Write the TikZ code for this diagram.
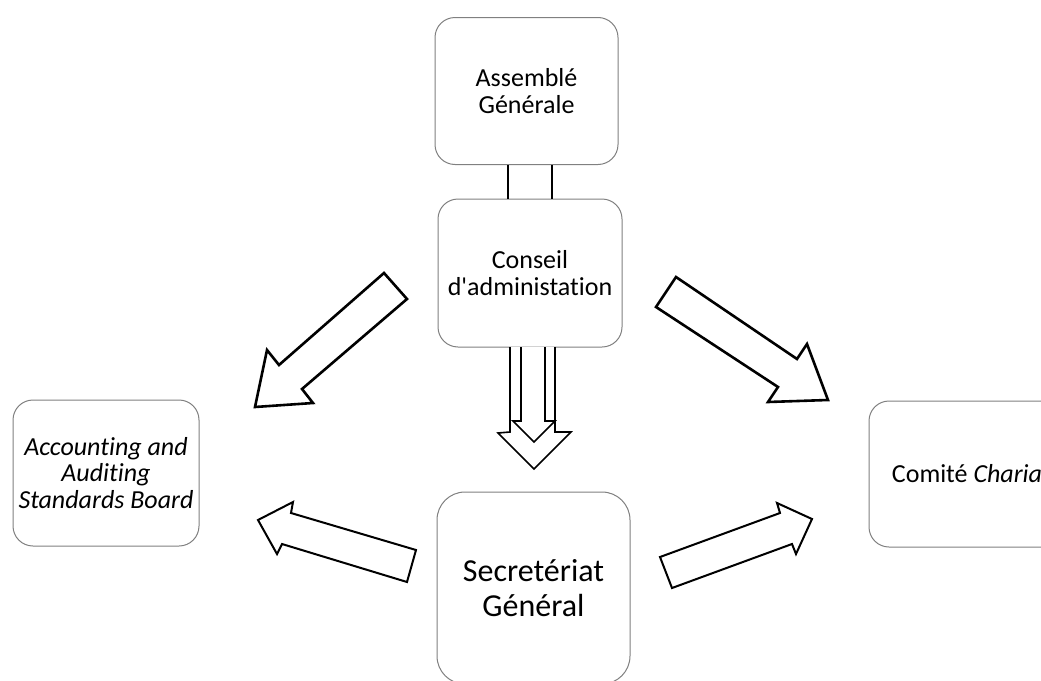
\documentclass[tikz,border=0pt]{standalone}
\usepackage{fontspec}
\setmainfont{Carlito}[Ligatures={TeXOff,CommonOff}]
\begin{document}
\begin{tikzpicture}[x=1pt,y=-1pt,
  box/.style={draw=black!50, line width=1pt, rounded corners=20pt, fill=white,
    align=center, inner sep=0pt, font=\fontsize{26}{26.5}\selectfont},
  blockarrow/.style={draw=black, line width=2.6pt, fill=white, line join=miter},
  twinline/.style={draw=black, line width=1.6pt}]
\useasboundingbox (0,0) rectangle (1041,680);
\clip (0,0) rectangle (1041,680);
% boxes
\node[box, minimum width=183pt, minimum height=147pt] (ag) at (526.5,91) {Assemblé\\Générale};
\node[box, minimum width=184pt, minimum height=148pt] (ca) at (530,273) {Conseil\\d'administation};
\node[box, minimum width=186pt, minimum height=146pt] (aasb) at (106,473) {\itshape Accounting and\\\itshape Auditing\\\itshape Standards Board};
\node[box, minimum width=196pt, minimum height=146pt] (cc) at (967,474) {Comité \textit{Charia}};
\node[box, minimum width=193pt, minimum height=192pt, rounded corners=28pt,
  font=\fontsize{32}{35}\selectfont] (sg) at (533.5,588) {Secretériat\\Général};
% twin connector between AG and CA
\draw[twinline] ([xshift=-18.5pt]ag.south) -- ([xshift=-18.5pt]ag.south |- ca.north);
\draw[twinline] ([xshift=25.5pt]ag.south) -- ([xshift=25.5pt]ag.south |- ca.north);
% double down arrow from CA to SG
\draw[twinline, fill=white] (510,347) -- (510,432) -- (498,433) -- (534,469) -- (571,432) -- (555,432) -- (555,347);
\draw[twinline] (521,347) -- (521,421) -- (513,421) -- (534,442) -- (555,421) -- (545,421) -- (545,347);
% block arrows
\draw[blockarrow] (384,273) -- (279,365) -- (267,350) -- (255,407) -- (313,403) -- (302,389) -- (407,299) -- cycle;
\draw[blockarrow] (676,277) -- (797,359) -- (807,344) -- (828,400) -- (768,402) -- (778,387) -- (656,307) -- cycle;
\draw[blockarrow, line width=2pt] (416,550) -- (291,513) -- (293,502) -- (258,520) -- (277,554) -- (282,544) -- (407,582) -- cycle;
\draw[blockarrow, line width=2pt] (660,557) -- (780,513) -- (777,503) -- (812,519) -- (796,554) -- (792,544) -- (672,588) -- cycle;
\end{tikzpicture}
\end{document}
